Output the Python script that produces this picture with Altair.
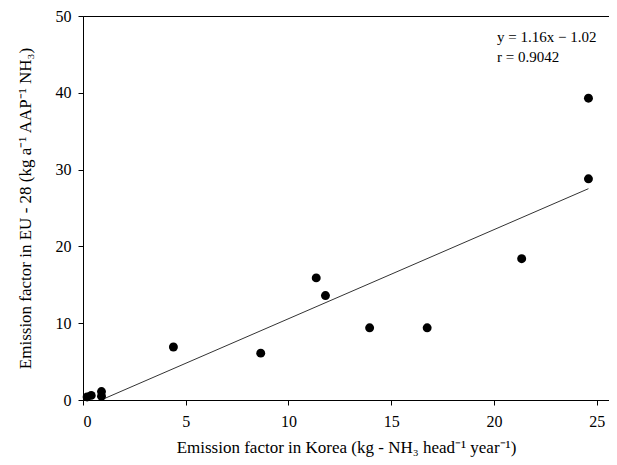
import altair as alt
import pandas as pd

korea = [0.2, 0.4, 0.9, 0.9, 4.4, 8.65, 11.35, 11.8, 13.95, 16.75, 21.35, 24.6, 24.6]
eu28 = [0.4, 0.6, 1.1, 0.5, 6.9, 6.1, 15.9, 13.6, 9.4, 9.4, 18.4, 39.3, 28.8]

slope = 1.16
intercept = -1.02
line_x = [1.0, 24.6]
line_y = [slope * v + intercept for v in line_x]

ann_text = ["y = 1.16x − 1.02", "r = 0.9042"]

FONT = "Liberation Serif"

pts = pd.DataFrame({"x": korea, "y": eu28})
ln = pd.DataFrame({"x": line_x, "y": line_y})
ann = pd.DataFrame({"t": ann_text, "py": [21, 41]})

xscale = alt.Scale(domain=[0, 25.6], nice=False, zero=False)
yscale = alt.Scale(domain=[0, 50], nice=False)

xaxis = alt.Axis(values=[0, 5, 10, 15, 20, 25], title="Emission factor in Korea (kg - NH₃ head⁻¹ year⁻¹)",
                 grid=False, tickSize=5, labelPadding=8, titlePadding=10)
yaxis = alt.Axis(values=[0, 10, 20, 30, 40, 50], title="Emission factor in EU - 28 (kg a⁻¹ AAP⁻¹ NH₃)",
                 grid=False, tickSize=5, labelPadding=7, titlePadding=21)

points = alt.Chart(pts).mark_circle(size=80, color="black", opacity=1).encode(
    x=alt.X("x:Q", scale=xscale, axis=xaxis),
    y=alt.Y("y:Q", scale=yscale, axis=yaxis),
)

line = alt.Chart(ln).mark_line(color="#333333", strokeWidth=1).encode(
    x=alt.X("x:Q", scale=xscale, axis=xaxis),
    y=alt.Y("y:Q", scale=yscale, axis=yaxis),
)

text = alt.Chart(ann).mark_text(align="left", baseline="middle", font=FONT, fontSize=15,
                                color="black").encode(
    x=alt.value(414),
    y=alt.Y("py:Q", scale=None),
    text="t:N",
)

chart = alt.layer(line, points, text).properties(
    width=526, height=384,
    autosize=alt.AutoSizeParams(type="none"),
    padding={"left": 75, "top": 8, "right": 0, "bottom": 57},
).configure_view(stroke="black", strokeWidth=1).configure_axis(
    labelFont=FONT, titleFont=FONT, labelFontSize=16, titleFontSize=17,
    titleFontWeight="normal", labelColor="black", titleColor="black",
    domainColor="black", tickColor="black",
)

chart.save("out.html", embed_options={"renderer": "svg", "actions": False})
